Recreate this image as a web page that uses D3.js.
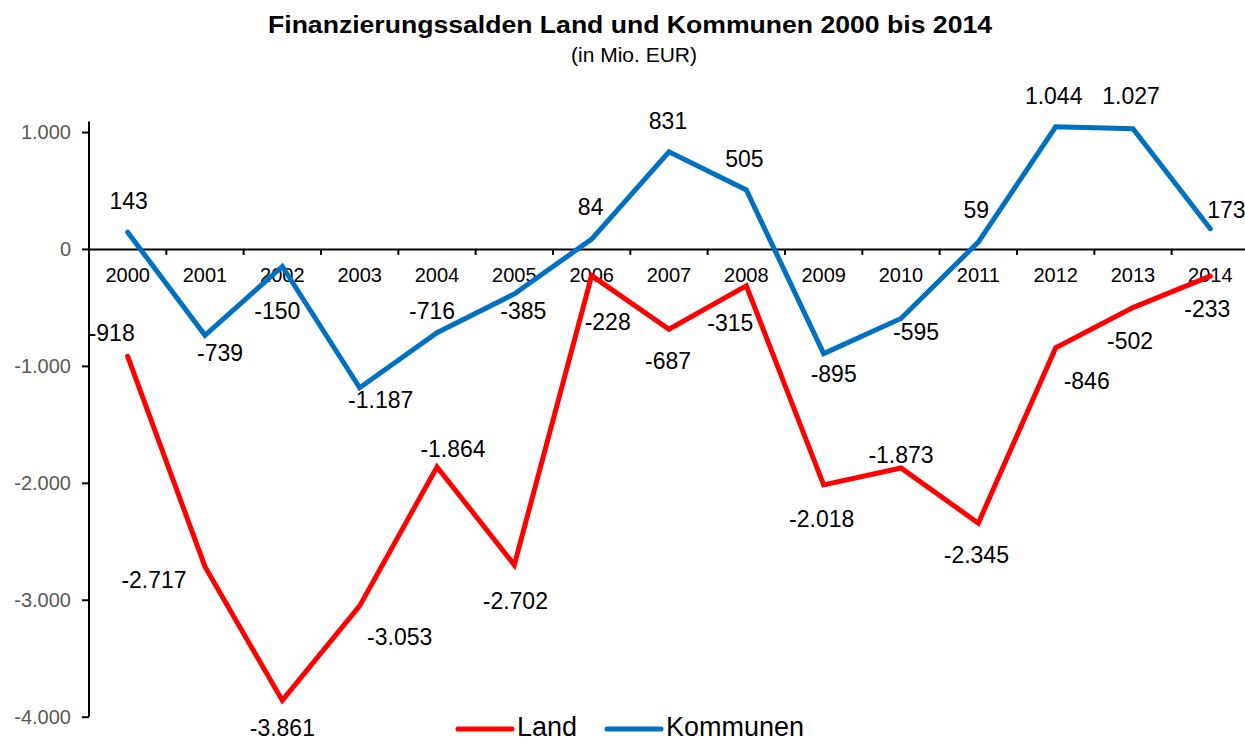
<!DOCTYPE html>
<html><head><meta charset="utf-8">
<script src="https://cdn.jsdelivr.net/npm/d3@7"></script>
<style>body{margin:0;background:#fff}svg{display:block}text{font-family:"Liberation Sans",Arial,sans-serif}</style>
</head><body><svg id="c" width="1245" height="742"></svg>
<script>
const years = ["2000","2001","2002","2003","2004","2005","2006","2007","2008","2009","2010","2011","2012","2013","2014"];
const land = [-918,-2717,-3861,-3053,-1864,-2702,-228,-687,-315,-2018,-1873,-2345,-846,-502,-233];
const kommunen = [143,-739,-150,-1187,-716,-385,84,831,505,-895,-595,59,1044,1027,173];
const yTicks = [-4000,-3000,-2000,-1000,0,1000];
const seriesNames = ["Land","Kommunen"];
const seriesColors = ["#FF0000","#0070C0"];
// label offsets relative to point (style)
const landLabelDx = [-16,-51,0,40,16,1,16,-1,-16,-2,0,-2,31,-3,-3];
const landLabelDy = [-15,21,36,39,-10,44,54,40,45,42,-5,40,41,41,41];
const kommLabelDx = [1,15,-5,21,-5,9,-1,-1,-2,10,15,-2,-2,-2,16];
const kommLabelDy = [-23,26,53,20,-14,25,-24,-23,-23,28,21,-24,-23,-25,-11];

const svg = d3.select("#c");
const fmt = v => d3.format(",")(v).replace(/,/g,".").replace(/\u2212/g,"-");
const x = d3.scaleBand().domain(years).range([89,1249]);
const y = d3.scaleLinear().domain([-4000,1000]).range([716.7,132]);
const cx = d => x(d) + x.bandwidth()/2;

// title
svg.append("text").attr("x",630).attr("y",33).attr("text-anchor","middle")
  .attr("font-size",23).attr("font-weight","bold")
  .attr("textLength",724).attr("lengthAdjust","spacingAndGlyphs")
  .text("Finanzierungssalden Land und Kommunen 2000 bis 2014");
svg.append("text").attr("x",634).attr("y",62).attr("text-anchor","middle")
  .attr("font-size",21).text("(in Mio. EUR)");

// y axis
const yAxis = svg.append("g").attr("transform","translate(89,0)")
  .call(d3.axisLeft(y).tickValues(yTicks).tickSize(7).tickPadding(11).tickFormat(fmt));
yAxis.select(".domain").attr("d",`M0,${y(1090)}V${y(-4000)}`).attr("stroke","#000").attr("stroke-width",2);
yAxis.selectAll(".tick line").attr("stroke","#000").attr("stroke-width",2);
yAxis.selectAll(".tick text").attr("fill","#595959").attr("font-size",20).attr("font-family","Liberation Sans, Arial, sans-serif");

// x axis at zero
const xAxis = svg.append("g").attr("transform",`translate(0,${y(0)})`)
  .call(d3.axisBottom(x).tickSize(0).tickPadding(0).tickFormat(""));
xAxis.select(".domain").attr("stroke","#000").attr("stroke-width",2);
xAxis.selectAll(".tick").remove();
svg.append("g").selectAll("line").data(years.slice(1)).join("line")
  .attr("x1",d=>x(d)).attr("x2",d=>x(d)).attr("y1",y(0)).attr("y2",y(0)+6)
  .attr("stroke","#000").attr("stroke-width",2);
svg.append("g").selectAll("text").data(years).join("text")
  .attr("x",d=>cx(d)).attr("y",y(0)+33).attr("text-anchor","middle")
  .attr("font-size",20).attr("fill","#000").text(d=>d);

// lines
const line = d3.line().x((d,i)=>cx(years[i])).y(d=>y(d));
const data = [land, kommunen];
data.forEach((s,k)=>{
  svg.append("path").datum(s).attr("d",line).attr("fill","none")
    .attr("stroke",seriesColors[k]).attr("stroke-width",5)
    .attr("stroke-linejoin","miter").attr("stroke-linecap","round");
});

// labels
const labelSets = [[land,landLabelDx,landLabelDy],[kommunen,kommLabelDx,kommLabelDy]];
labelSets.forEach(([s,dx,dy])=>{
  svg.append("g").selectAll("text").data(s).join("text")
    .attr("x",(d,i)=>cx(years[i])+dx[i]).attr("y",(d,i)=>y(d)+dy[i])
    .attr("text-anchor","middle").attr("font-size",23).attr("fill","#000")
    .text(d=>fmt(d));
});

// legend
const leg = svg.append("g");
const legX = [458,607];
seriesNames.forEach((n,k)=>{
  leg.append("line").attr("x1",legX[k]).attr("x2",legX[k]+54).attr("y1",729).attr("y2",729)
    .attr("stroke",seriesColors[k]).attr("stroke-width",5).attr("stroke-linecap","round");
  leg.append("text").attr("x",legX[k]+59).attr("y",736).attr("font-size",27).attr("fill","#000").text(n);
});
</script></body></html>
